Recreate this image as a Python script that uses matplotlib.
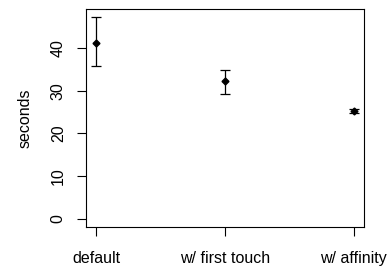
import numpy as np
import matplotlib
matplotlib.use('Agg')
import matplotlib.pyplot as plt

plt.rcParams['font.family'] = ['Liberation Sans', 'DejaVu Sans']

categorias = ['default', 'w/ first touch', 'w/ affinity']
medias = [41.2, 32.2, 25.2]
inferior = [35.7, 29.3, 24.8]
superior = [47.2, 34.8, 25.6]

x = np.arange(1, len(categorias) + 1)
err = [np.array(medias) - np.array(inferior), np.array(superior) - np.array(medias)]

fig = plt.figure(figsize=(3.88, 2.68), dpi=100)
ax = fig.add_axes([86 / 388, 41 / 268, 278 / 388, 218 / 268])

ax.errorbar(x, medias, yerr=err, fmt='D', color='black', ms=3.5,
            ecolor='black', elinewidth=0.9, capsize=3.7, capthick=0.9)

ax.set_xlim(0.92, 3.08)
ax.set_ylim(-1.89, 49.09)
ax.set_xticks(x)
ax.set_xticklabels(categorias)
ax.set_yticks([0, 10, 20, 30, 40])
ax.set_yticklabels(['0', '10', '20', '30', '40'], rotation=90, va='center')
ax.tick_params(axis='both', length=6.5, width=0.8, labelsize=11.5)
ax.tick_params(axis='x', pad=11)
ax.tick_params(axis='y', pad=8)
ax.set_ylabel('seconds', fontsize=11.5, labelpad=13)
for s in ax.spines.values():
    s.set_linewidth(0.8)

fig.savefig('out.png', dpi=100)
plt.close()
